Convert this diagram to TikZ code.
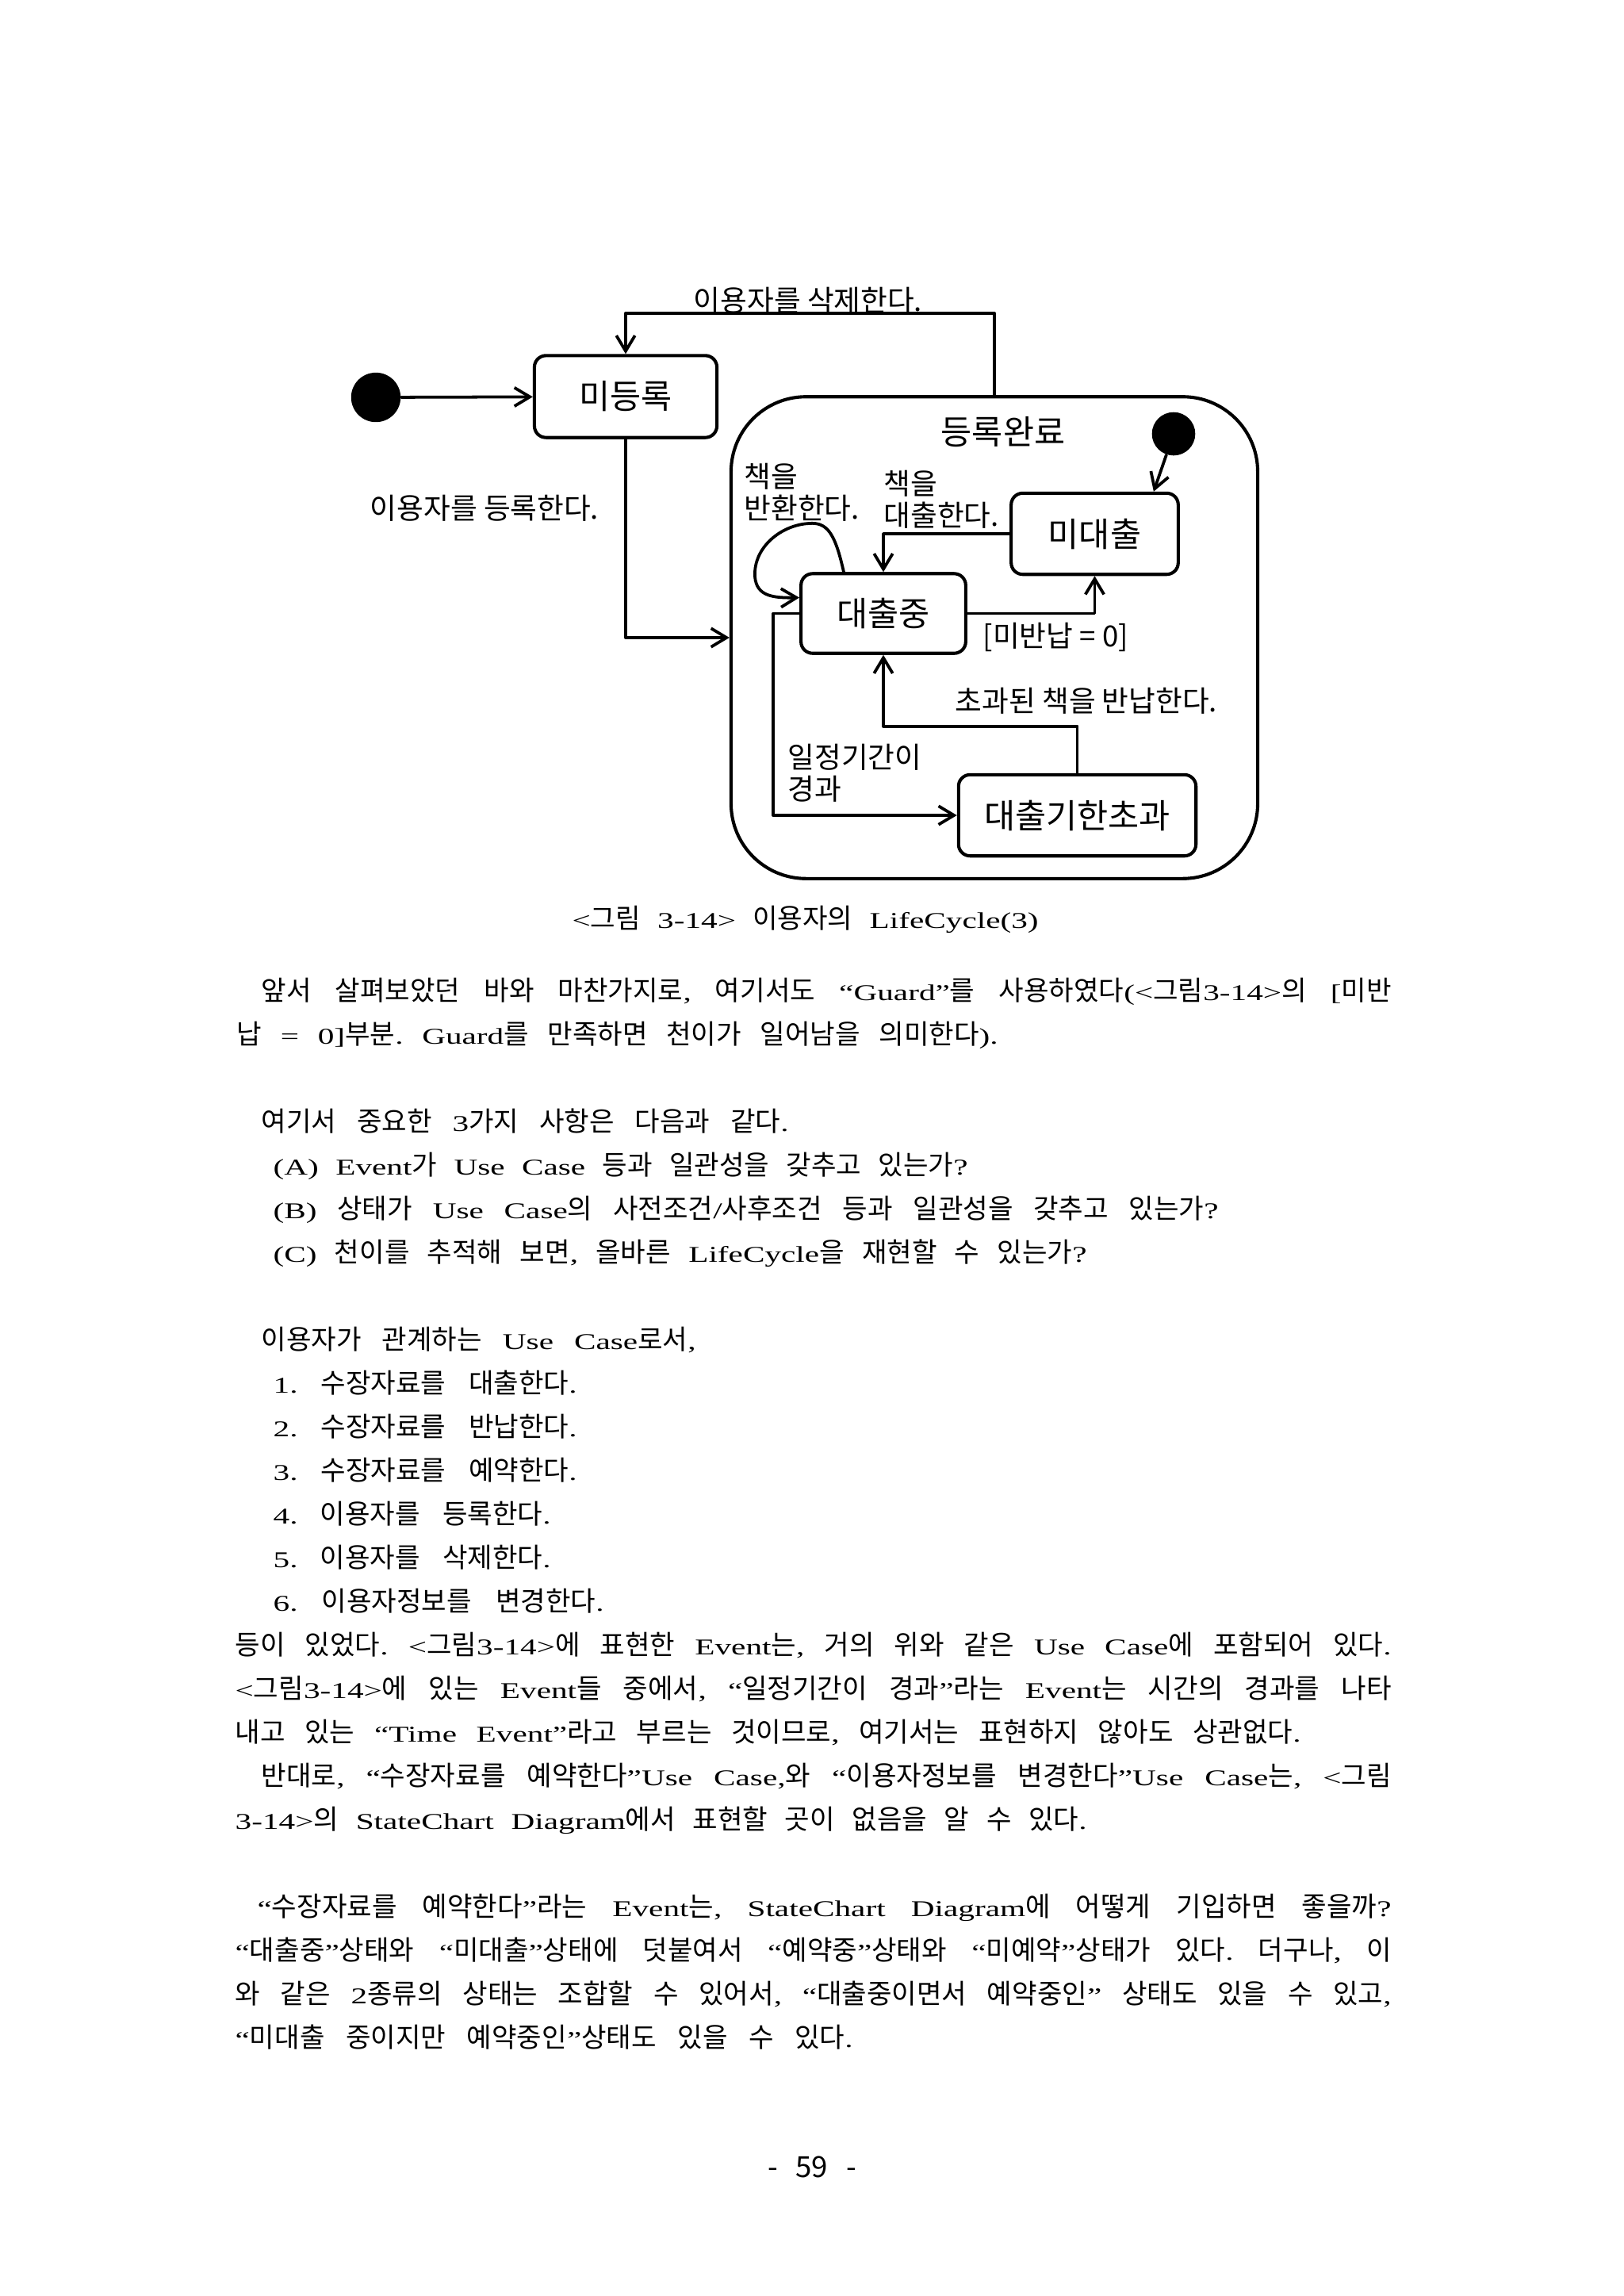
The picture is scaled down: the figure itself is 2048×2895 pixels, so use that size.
\documentclass[tikz,border=0pt]{standalone}
\usepackage{fontspec}
\usetikzlibrary{arrows.meta,calc}
\setmainfont{Noto Sans CJK KR}
\newfontfamily\kofont{Noto Sans CJK KR}
\newfontfamily\latfont[Scale=0.83,FakeStretch=1.45]{Liberation Serif}

% Hangul in the sans face, Latin in the serif face (body text only)
\newXeTeXintercharclass\hangulclass
\newcount\hcode
\hcode="AC00
\loop
  \XeTeXcharclass\hcode=\hangulclass
  \advance\hcode by 1
\ifnum\hcode<"D7A4 \repeat
\XeTeXcharclass"201C=0
\XeTeXcharclass"201D=0
\XeTeXinterchartoks 4095 \hangulclass = {\kofont}
\XeTeXinterchartoks 0 \hangulclass = {\kofont}
\XeTeXinterchartoks 4095 0 = {\latfont}
\XeTeXinterchartoks \hangulclass 0 = {\latfont}

\newdimen\pxu
\pxu=0.10254mm
\newcommand{\bodytext}{\XeTeXinterchartokenstate=1 \fontsize{10}{11}\selectfont
  \frenchspacing\spaceskip=0.3em plus 1fil minus 0.1em\relax}

\begin{document}
\begin{tikzpicture}[x=0.10254mm, y=-0.10254mm, line cap=round, line join=round,
  >={Straight Barb[length=2mm, width=2.4mm]},
  state/.style={draw, line width=1.2pt, rounded corners=1.5mm, inner sep=0pt,
    font=\fontsize{12.4}{14}\selectfont},
  dot/.style={circle, fill=black, inner sep=0pt},
  lbl/.style={inner sep=0pt, font=\fontsize{10.7}{11.6}\selectfont},
  bodyline/.style={anchor=base west, inner sep=0pt, font=\bodytext},
  conn/.style={->, line width=1.1pt}]
  \fill[white] (0, 0) rectangle (2048, 2895);
  \useasboundingbox (0, 0) rectangle (2048, 2895);

  % States
  \node[dot, minimum size=6.4mm] (start) at (474, 501) {};
  \node[state, minimum width=23.6mm, minimum height=10.6mm] (mideungrok) at (789, 500) {미등록};
  \node[draw, line width=1.2pt, rounded corners=9.7mm, minimum width=68.1mm, minimum height=62.3mm] (deungrok) at (1254, 804) {};
  \node[lbl, font=\fontsize{12.4}{14}\selectfont] (deungroktitle) at (1265, 545) {등록완료};
  \node[dot, minimum size=5.6mm] (start2) at (1480, 547) {};
  \node[state, minimum width=21.6mm, minimum height=10.5mm] (midaechul) at (1380.5, 673) {미대출};
  \node[state, minimum width=21.3mm, minimum height=10.3mm] (daechuljung) at (1114, 773.5) {대출중};
  \node[state, minimum width=30.7mm, minimum height=10.5mm] (chogwa) at (1358.5, 1028) {대출기한초과};

  % Transitions
  \draw[conn] (start) -- (mideungrok);
  \draw[conn] (deungrok.north) -- ++(0, -103) -| (mideungrok.north);
  \draw[conn] (mideungrok.south) |- (deungrok.west);
  \draw[conn] (start2) -- ($(midaechul.north east)+(-33, 0)$);
  \draw[conn] (midaechul.west) -| (daechuljung.north);
  \draw[conn] (daechuljung.east) -| (midaechul.south);
  \draw[conn] (chogwa.north) -- ++(0, -59) -| (daechuljung.south);
  \draw[conn] (daechuljung.west) -- ++(-33, 0) |- (chogwa.west);
  % self loop
  \draw[conn] ($(daechuljung.north)+(-50, 0)$) .. controls (1053, 672) and (1043, 658) .. (1020, 660)
    .. controls (985, 662) and (950, 690) .. (952, 727)
    .. controls (954, 752) and (975, 754) .. ($(daechuljung.west)+(0, -20)$);

  % Transition labels
  \node[lbl] (lbldelete) at (1019, 379) {이용자를 삭제한다.};
  \node[lbl] (lblregister) at (611, 641) {이용자를 등록한다.};
  \node[lbl, anchor=west, align=left] (lblreturn) at (938, 621) {책을\\반환한다.};
  \node[lbl, anchor=west, align=left] (lbllend) at (1114, 630) {책을\\대출한다.};
  \node[lbl, anchor=west] (lblguard) at (1239, 803) {[미반납 = 0]};
  \node[lbl] (lbllate) at (1370, 884) {초과된 책을 반납한다.};
  \node[lbl, anchor=west, align=left] (lblperiod) at (993, 975) {일정기간이\\경과};

  % Caption
  \node[bodyline] (caption) at (721, 1170) {\makebox[588\pxu][s]{<그림 3-14> 이용자의 LifeCycle(3)}};

  % Body text
  \node[bodyline] (pa) at (329, 1261) {\makebox[1425\pxu][s]{앞서 살펴보았던 바와 마찬가지로, 여기서도 “Guard”를 사용하였다(<그림3-14>의 [미반}};
  \node[bodyline] (pb) at (298, 1316) {\makebox[960\pxu][s]{납 = 0]부분. Guard를 만족하면 천이가 일어남을 의미한다).}};
  \node[bodyline] (pc) at (329, 1426) {\makebox[665\pxu][s]{여기서 중요한 3가지 사항은 다음과 같다.}};
  \node[bodyline] (pd) at (344, 1481) {\makebox[876\pxu][s]{(A) Event가 Use Case 등과 일관성을 갖추고 있는가?}};
  \node[bodyline] (pe) at (344, 1536) {\makebox[1192\pxu][s]{(B) 상태가 Use Case의 사전조건/사후조건 등과 일관성을 갖추고 있는가?}};
  \node[bodyline] (pf) at (344, 1591) {\makebox[1026\pxu][s]{(C) 천이를 추적해 보면, 올바른 LifeCycle을 재현할 수 있는가?}};
  \node[bodyline] (pg) at (329, 1701) {\makebox[548\pxu][s]{이용자가 관계하는 Use Case로서,}};
  \node[bodyline] (ph) at (344, 1756) {\makebox[383\pxu][s]{1. 수장자료를 대출한다.}};
  \node[bodyline] (pi) at (344, 1811) {\makebox[383\pxu][s]{2. 수장자료를 반납한다.}};
  \node[bodyline] (pj) at (344, 1866) {\makebox[383\pxu][s]{3. 수장자료를 예약한다.}};
  \node[bodyline] (pk) at (344, 1921) {\makebox[350\pxu][s]{4. 이용자를 등록한다.}};
  \node[bodyline] (pl) at (344, 1976) {\makebox[350\pxu][s]{5. 이용자를 삭제한다.}};
  \node[bodyline] (pm) at (344, 2031) {\makebox[417\pxu][s]{6. 이용자정보를 변경한다.}};
  \node[bodyline] (pn) at (296, 2086) {\makebox[1458\pxu][s]{등이 있었다. <그림3-14>에 표현한 Event는, 거의 위와 같은 Use Case에 포함되어 있다.}};
  \node[bodyline] (po) at (296, 2141) {\makebox[1458\pxu][s]{<그림3-14>에 있는 Event들 중에서, “일정기간이 경과”라는 Event는 시간의 경과를 나타}};
  \node[bodyline] (pp) at (296, 2196) {\makebox[1344\pxu][s]{내고 있는 “Time Event”라고 부르는 것이므로, 여기서는 표현하지 않아도 상관없다.}};
  \node[bodyline] (pq) at (329, 2251) {\makebox[1425\pxu][s]{반대로, “수장자료를 예약한다”Use Case,와 “이용자정보를 변경한다”Use Case는, <그림}};
  \node[bodyline] (pr) at (296, 2306) {\makebox[1074\pxu][s]{3-14>의 StateChart Diagram에서 표현할 곳이 없음을 알 수 있다.}};
  \node[bodyline] (ps) at (324, 2416) {\makebox[1430\pxu][s]{“수장자료를 예약한다”라는 Event는, StateChart Diagram에 어떻게 기입하면 좋을까?}};
  \node[bodyline] (pt) at (296, 2471) {\makebox[1458\pxu][s]{“대출중”상태와 “미대출”상태에 덧붙여서 “예약중”상태와 “미예약”상태가 있다. 더구나, 이}};
  \node[bodyline] (pu) at (296, 2526) {\makebox[1458\pxu][s]{와 같은 2종류의 상태는 조합할 수 있어서, “대출중이면서 예약중인” 상태도 있을 수 있고,}};
  \node[bodyline] (pv) at (296, 2581) {\makebox[779\pxu][s]{“미대출 중이지만 예약중인”상태도 있을 수 있다.}};

  % Page number
  \node[inner sep=0pt, font=\fontsize{10.7}{12}\selectfont] (pagenum) at (1024, 2732) {\makebox[112\pxu][s]{- 59 -}};
\end{tikzpicture}
\end{document}
